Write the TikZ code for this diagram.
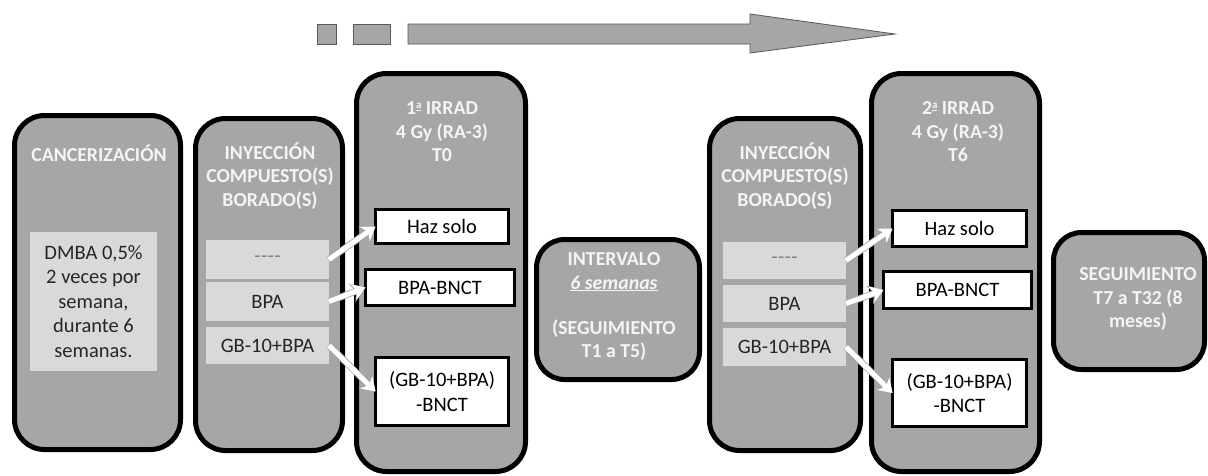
\documentclass[tikz,border=0pt]{standalone}
\usepackage{fontspec}
\setmainfont{Carlito}
\usetikzlibrary{arrows.meta}

\definecolor{boxgray}{HTML}{A6A6A6}
\definecolor{itemgray}{HTML}{D9D9D9}
\definecolor{titlewhite}{HTML}{F4F4F4}
\definecolor{bodytext}{HTML}{262626}
\definecolor{dashgray}{HTML}{808080}
\definecolor{edgegray}{HTML}{595959}

% ordinal indicator drawn as a raised, underlined a
\newcommand{\ordA}{\raisebox{6pt}{\fontsize{11}{11}\selectfont\underline{a}}}
% four separate hyphens, kept apart from the dash ligatures
\newcommand{\nocompound}{-\kern0.4pt-\kern0.4pt-\kern0.4pt-}

\begin{document}
\begin{tikzpicture}[x=1pt,y=-1pt,
  stage/.style={draw=black, line width=5pt, fill=boxgray, rounded corners=30pt,
                inner sep=0pt, outer sep=0pt},
  item/.style={fill=itemgray, inner sep=0pt, outer sep=0pt, align=center,
               text=bodytext, font=\fontsize{20.5}{24.5}\selectfont},
  group/.style={draw=black, line width=3pt, fill=white, inner sep=0pt, outer sep=0pt,
                align=center, text=black, font=\fontsize{20.5}{24.5}\selectfont},
  heading/.style={align=center, text=titlewhite, inner sep=0pt,
                  font=\bfseries\fontsize{19.8}{23.5}\selectfont},
  flowarrow/.style={line width=5pt, white,
                    -{Stealth[length=13pt, width=17pt, inset=4pt]},
                    preaction={draw=edgegray!55, line width=6.6pt,
                               -{Stealth[length=14.5pt, width=19.5pt, inset=4.5pt]}}},
  timeline/.style={fill=boxgray, draw=edgegray, line width=0.8pt}
]
\useasboundingbox (0,0) rectangle (1208,475);
\fill[white] (0,0) rectangle (1208,475);

% time line across the top
\draw[timeline] (317,24) rectangle (336,44);
\draw[timeline] (353,24) rectangle (390,44);
\draw[timeline] (408,24) -- (750,24) -- (750,14) -- (895,34) -- (750,53)
  -- (750,44) -- (408,44) -- cycle;

% stages
\node[stage, minimum width=166pt, minimum height=334pt] (canc) at (97.5,282.5) {};
\node[stage, minimum width=147pt, minimum height=332pt] (iny1) at (269,284.5) {};
\node[stage, minimum width=169pt, minimum height=398pt] (irr1) at (441,272.5) {};
\node[stage, minimum width=163pt, minimum height=140pt, rounded corners=28pt] (inter) at (618,309.5) {};
\node[stage, minimum width=151pt, minimum height=332pt] (iny2) at (785,284.5) {};
\node[stage, minimum width=168pt, minimum height=398pt] (irr2) at (955.5,272.5) {};
\node[stage, minimum width=151pt, minimum height=137pt, rounded corners=28pt] (seg) at (1129,301) {};

% stage headings
\node[heading] (cancT) at (99,153) {CANCERIZACIÓN};
\node[heading] (iny1T) at (270,176) {INYECCIÓN\\COMPUESTO(S)\\BORADO(S)};
\node[heading] (irr1T) at (442,132) {1\ordA{} IRRAD\\4 Gy (RA-3)\\T0};
\node[heading] (interT) at (614,259) {INTERVALO};
\node[heading, anchor=base] (interU) at (614,289) {\underline{\textit{6 semanas}}};
\node[heading] (interS) at (614,340) {(SEGUIMIENTO\\T1 a T5)};
\node[heading] (iny2T) at (785,176) {INYECCIÓN\\COMPUESTO(S)\\BORADO(S)};
\node[heading] (irr2T) at (958,132) {2\ordA{} IRRAD\\4 Gy (RA-3)\\T6};
\node[heading] (segT) at (1138,299) {SEGUIMIENTO\\T7 a T32 (8\\meses)};

% cancerization protocol
\node[item, minimum width=127pt, minimum height=139pt] (dmba) at (93.5,301.5)
  {DMBA 0,5\%\\2 veces por\\semana,\\durante 6\\semanas.};

% boron compounds, first injection
\node[item, minimum width=123pt, minimum height=39pt, text=dashgray] (n1a) at (267.5,259.5) {\nocompound};
\node[item, minimum width=123pt, minimum height=39pt] (n1b) at (267.5,301.5) {BPA};
\node[item, minimum width=123pt, minimum height=37pt] (n1c) at (267.5,345.5) {GB-10+BPA};

% boron compounds, second injection
\node[item, minimum width=123pt, minimum height=37pt, text=dashgray] (n2a) at (784.5,260.5) {\nocompound};
\node[item, minimum width=123pt, minimum height=37pt] (n2b) at (784.5,303.5) {BPA};
\node[item, minimum width=123pt, minimum height=38pt] (n2c) at (784.5,347) {GB-10+BPA};

% treatment groups, first irradiation
\node[group, minimum width=133pt, minimum height=34pt] (haz1) at (442,226.5) {Haz solo};
\node[group, minimum width=149pt, minimum height=36pt] (bpa1) at (440,287.5) {BPA-BNCT};
\node[group, minimum width=133pt, minimum height=68pt] (gb1) at (442,391.5) {(GB-10+BPA)\\-BNCT};

% treatment groups, second irradiation
\node[group, minimum width=134pt, minimum height=36pt] (haz2) at (959.5,228.5) {Haz solo};
\node[group, minimum width=148pt, minimum height=37pt] (bpa2) at (957.5,290) {BPA-BNCT};
\node[group, minimum width=134pt, minimum height=67pt] (gb2) at (959.5,393) {(GB-10+BPA)\\-BNCT};

% compound -> group
\draw[flowarrow] (n1a.east) -- (haz1.west);
\draw[flowarrow] (n1b.east) -- (bpa1.west);
\draw[flowarrow] (n1c.east) -- (gb1.west);
\draw[flowarrow] (n2a.east) -- (haz2.west);
\draw[flowarrow] (n2b.east) -- (bpa2.west);
\draw[flowarrow] (n2c.east) -- (gb2.west);
\end{tikzpicture}
\end{document}
